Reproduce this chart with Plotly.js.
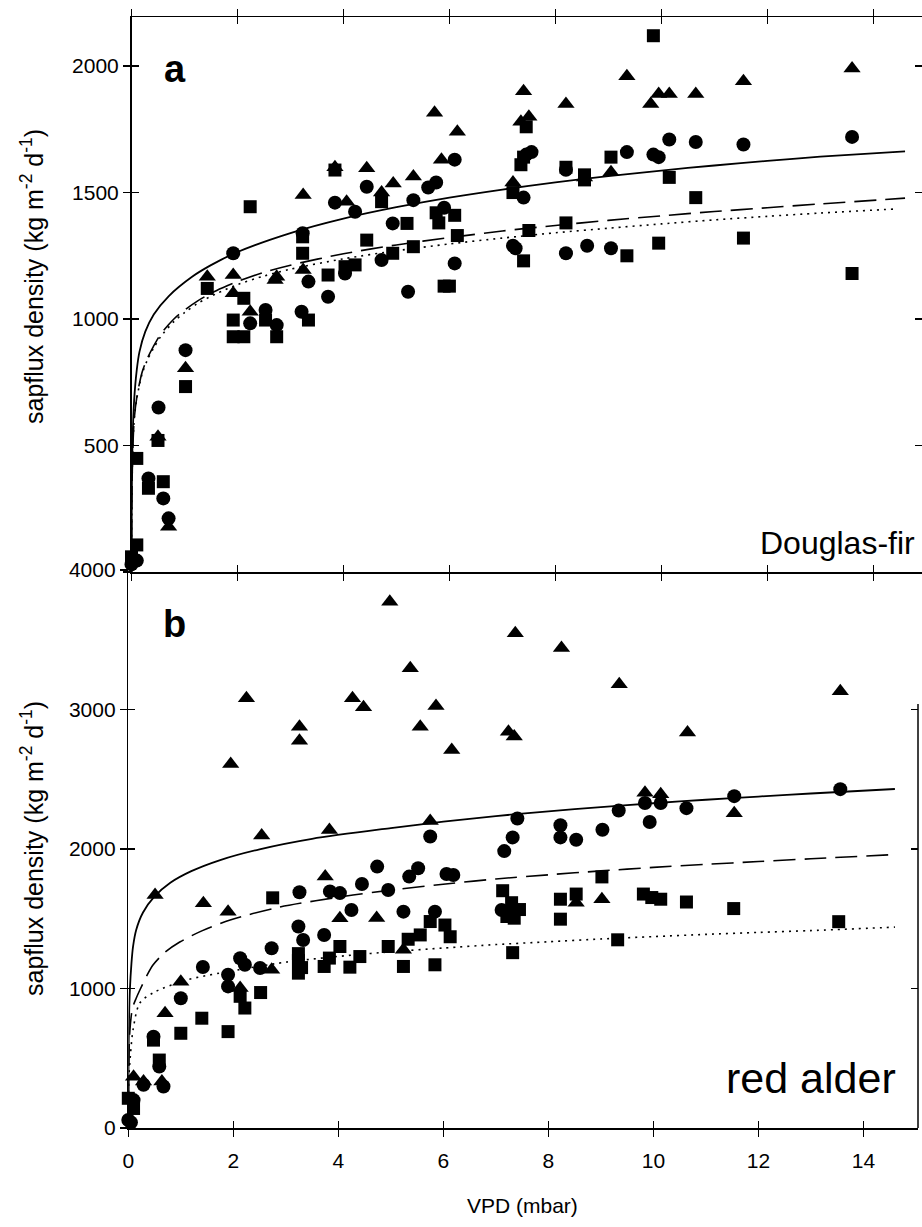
<!DOCTYPE html>
<html>
<head>
<meta charset="utf-8">
<script src="https://cdn.plot.ly/plotly-3.0.1.min.js"></script>
<style>html,body{margin:0;padding:0;background:#fff;}#chart{width:922px;height:1227px;}</style>
</head>
<body>
<div id="chart"></div>
<script>
// ---------- Panel a: Douglas-fir ----------
const aTriX = [0.5,0.7,1.02,1.43,1.92,1.92,2.24,2.71,2.74,3.24,3.24,3.84,4.06,4.44,4.72,4.94,5.32,5.72,5.85,6.15,7.2,7.35,7.4,7.5,8.2,8.55,9.05,9.35,9.8,9.95,10.15,10.65,11.55,13.6];
const aTriY = [535,179,805,1167,1102,1174,1029,1154,1167,1490,1194,1600,1464,1596,1500,1536,1563,1815,1630,1740,1540,1780,1900,1800,1850,1560,1580,1960,1850,1890,1890,1890,1940,1990];
const aCirX = [0.0,0.1,0.32,0.6,0.7,0.51,1.02,1.92,2.24,2.53,2.74,3.21,3.34,3.23,3.71,3.84,4.22,4.44,4.72,4.93,5.22,5.32,4.03,5.6,5.75,5.9,6.1,6.1,7.2,7.25,7.4,7.45,7.55,8.2,8.2,8.6,9.05,9.35,9.85,9.95,10.15,10.65,11.55,13.6];
const aCirY = [30,45,370,291,212,650,877,1260,983,1036,976,1029,1148,1339,1088,1460,1424,1523,1233,1378,1108,1470,1180,1520,1540,1440,1630,1220,1290,1280,1480,1650,1660,1260,1590,1290,1280,1660,1650,1640,1710,1700,1690,1720];
const aSqX = [0.0,0.1,0.1,0.32,0.6,0.5,1.02,1.43,1.92,1.92,2.12,2.12,2.24,2.53,2.74,3.23,3.23,3.34,3.71,3.84,4.03,4.22,4.44,4.72,4.93,5.2,5.32,5.75,5.8,5.9,6.0,6.1,6.15,7.2,7.35,7.4,7.45,7.5,7.4,8.2,8.2,8.55,8.55,9.05,9.35,9.85,9.95,10.15,10.65,11.55,13.6];
const aSqY = [60,107,449,331,357,520,733,1121,996,930,1082,930,1444,996,930,1325,1260,996,1174,1589,1207,1214,1312,1464,1260,1378,1286,1420,1380,1130,1130,1410,1330,1500,1610,1640,1760,1350,1230,1600,1380,1570,1550,1640,1250,2120,1300,1560,1480,1320,1180];
// fitted curves, values
const aFitX = [0,0.005,0.02,0.05,0.1,0.15,0.26,0.42,0.7,1.15,1.5,2,3,4,5,6,7,8,9,10,11,12,13,14.6];
const aSolidY = [0,300,520,680,800,870,950,1018,1090,1168,1213,1265,1340,1397,1442,1480,1512,1540,1565,1587,1607,1625,1642,1663];
const aDashX = [0,0.005,0.02,0.05,0.1,0.2,0.3,0.41,0.55,0.8,1.0,1.25,1.6,2,2.5,3,4,5,6,7,8,9,10,11,12,13,14.6];
const aDashY = [0,250,450,600,690,790,845,890,940,1000,1035,1072,1112,1148,1185,1213,1258,1293,1322,1348,1370,1390,1408,1425,1440,1455,1478];
const aDotX = [0,0.005,0.02,0.05,0.1,0.2,0.3,0.41,0.55,0.8,1.0,1.25,1.6,2,2.5,3,4,5,6,7,8,9,10,11,12,13,14.4];
const aDotY = [0,250,450,600,685,783,838,882,930,990,1025,1062,1100,1136,1170,1197,1238,1270,1297,1320,1341,1359,1376,1392,1406,1419,1435];

// ---------- Panel b: red alder ----------
const bTriX = [4.98,7.37,8.25,5.37,9.35,13.56,2.25,4.27,4.48,5.86,3.26,3.26,5.56,7.24,7.35,10.65,6.16,1.95,2.54,3.83,5.75,9.84,10.14,11.54,0.51,1.43,1.9,3.75,4.03,4.73,5.24,2.73,7.3,8.53,9.02,2.13,1.0,0.7,0.1,0.29,0.64];
const bTriY = [3773,3546,3440,3295,3181,3131,3080,3080,3016,3025,2877,2776,2877,2841,2806,2836,2710,2609,2097,2136,2201,2404,2392,2256,1670,1611,1551,1802,1503,1505,1277,1135,1580,1615,1640,1004,1049,823,368,333,333];
const bCirX = [13.56,11.54,9.84,10.14,9.93,10.63,9.34,9.03,8.23,8.23,8.53,7.41,7.32,7.16,5.75,4.74,5.52,5.35,6.06,6.19,4.45,4.95,3.26,3.84,4.03,7.11,4.25,5.24,5.84,3.24,3.33,3.73,2.73,2.13,2.22,2.51,1.42,1.9,1.9,1.0,0.48,0.59,0.29,0.67,0.1,0.0,0.05];
const bCirY = [2429,2379,2330,2330,2194,2293,2276,2138,2170,2083,2066,2219,2083,1985,2090,1874,1862,1802,1821,1814,1749,1706,1690,1696,1684,1563,1563,1551,1551,1444,1348,1384,1288,1217,1170,1147,1154,1099,1015,930,655,440,310,297,200,57,40];
const bSqX = [9.02,8.23,8.53,9.81,9.97,10.14,10.63,11.53,13.53,8.23,9.32,7.32,7.13,7.3,7.45,7.35,2.75,7.21,5.75,6.03,6.13,3.24,3.24,3.3,3.24,4.03,3.83,3.73,4.41,4.22,4.95,5.33,5.56,5.24,5.84,2.13,2.22,2.52,1.4,1.9,1.0,0.48,0.59,0.0,0.1];
const bSqY = [1800,1640,1677,1677,1652,1640,1620,1573,1479,1497,1349,1257,1701,1615,1566,1504,1650,1516,1480,1455,1371,1250,1200,1150,1110,1301,1218,1158,1229,1153,1301,1353,1384,1158,1170,944,860,971,787,691,679,630,487,213,140];
const bFitX = [0,0.005,0.015,0.03,0.06,0.09,0.15,0.28,0.5,0.8,1.2,1.75,2.5,3.5,5,6,7,8,9,10,11,12,13,14.6];
const bSolidY = [0,500,800,990,1180,1300,1420,1545,1660,1758,1841,1921,1998,2073,2150,2196,2236,2270,2300,2328,2353,2376,2398,2430];
const bDashX = [0,0.01,0.03,0.08,0.15,0.22,0.35,0.47,0.7,0.98,1.4,1.94,2.89,4.28,5,6.18,7,8,9,10,11,12,13,14.6];
const bDashY = [0,450,700,860,930,989,1090,1168,1260,1333,1413,1491,1584,1670,1705,1755,1785,1815,1843,1868,1890,1910,1930,1960];
const bDotX = [0,0.01,0.04,0.09,0.22,0.5,1.11,1.75,3.02,4.28,5,6,7,8,9,10,11,12,13,14.6];
const bDotY = [0,350,520,703,896,975,1061,1111,1190,1240,1263,1290,1315,1335,1355,1372,1388,1402,1415,1440];

const xTicks = [0,2,4,6,8,10,12,14];
const aYTicks = [0,500,1000,1500,2000];
const aYText = ['','500','1000','1500','2000'];
const bYTicks = [0,1000,2000,3000,4000];

const FONT = 'Arial, "Liberation Sans", Helvetica, sans-serif';
const BLACK = '#000';

function pts(x, y, sym, size, xa, ya) {
  return {type:'scatter', mode:'markers', x:x, y:y, xaxis:xa, yaxis:ya, cliponaxis:false,
    marker:{symbol:sym, size:size, color:BLACK, line:{width:0}}, showlegend:false, hoverinfo:'skip'};
}
function curve(x, y, dash, w, xa, ya) {
  return {type:'scatter', mode:'lines', x:x, y:y, xaxis:xa, yaxis:ya,
    line:{color:BLACK, width:w, dash:dash, shape:'spline', smoothing:0.8}, showlegend:false, hoverinfo:'skip'};
}
function dummy(xa, ya){ return {type:'scatter', mode:'markers', x:[null], y:[null], xaxis:xa, yaxis:ya, showlegend:false, hoverinfo:'skip'}; }

const traces = [
  curve(aFitX, aSolidY, 'solid', 1.8, 'x', 'y'),
  curve(aDashX, aDashY, '22px,9px', 1.6, 'x', 'y'),
  curve(aDotX, aDotY, '2px,5px', 1.6, 'x', 'y'),
  pts(aSqX, aSqY, 'square', 13, 'x', 'y'),
  pts(aCirX, aCirY, 'circle', 14, 'x', 'y'),
  pts(aTriX, aTriY, 'triangle-up', 15, 'x', 'y'),
  curve(bFitX, bSolidY, 'solid', 1.8, 'x2', 'y2'),
  curve(bDashX, bDashY, '22px,9px', 1.6, 'x2', 'y2'),
  curve(bDotX, bDotY, '2px,5px', 1.6, 'x2', 'y2'),
  pts(bSqX, bSqY, 'square', 13, 'x2', 'y2'),
  pts(bCirX, bCirY, 'circle', 14, 'x2', 'y2'),
  pts(bTriX, bTriY, 'triangle-up', 15, 'x2', 'y2'),
  dummy('x3','y'), dummy('x','y3'), dummy('x4','y2'), dummy('x5','y2'), dummy('x2','y4'), dummy('x2','y5')
];

const H = 1227, W = 922;
const aXdom = [131.5/W, 1];
const aYdom = [1-572/H, 1-17/H];
const bXdom = [128.3/W, 918/W];
const bYdom = [1-1128/H, 1-570/H];
const aXr = [0, 14.92];
const aYr = [0, 2194];
const bXr = [0, 15.04];
const bYr = [0, 4000];

const tickFont = {family:FONT, size:21, color:BLACK};
function axBase(extra){
  return Object.assign({showgrid:false, zeroline:false, linecolor:BLACK, linewidth:1.5, tickcolor:BLACK, tickwidth:1.3, ticklen:7, tickfont:tickFont, fixedrange:true}, extra);
}

const layout = {
  width: W, height: H,
  margin:{l:0, r:0, t:0, b:0},
  paper_bgcolor:'#fff', plot_bgcolor:'rgba(0,0,0,0)',
  font:{family:FONT, color:BLACK},
  showlegend:false,
  xaxis: axBase({domain:aXdom, range:aXr, anchor:'y', tickvals:xTicks, showticklabels:false, ticks:'outside', showline:true, mirror:'ticks'}),
  xaxis3: axBase({overlaying:'x', range:aXr, anchor:'y', tickvals:xTicks, showticklabels:false, ticks:'inside', showline:false, mirror:'ticks'}),
  yaxis: axBase({domain:aYdom, range:aYr, anchor:'x', tickvals:aYTicks, ticktext:aYText, ticks:'outside', showline:true, mirror:'ticks'}),
  yaxis3: axBase({overlaying:'y', range:aYr, anchor:'x', tickvals:aYTicks, showticklabels:false, ticks:'inside', showline:false, mirror:'ticks'}),
  xaxis2: axBase({domain:bXdom, range:bXr, anchor:'y2', tickvals:xTicks, showticklabels:false, ticks:'outside', showline:true}),
  xaxis4: axBase({overlaying:'x2', range:bXr, anchor:'y2', tickvals:xTicks, showticklabels:false, ticks:'inside', showline:false}),
  // tick labels of the VPD axis, set a little lower than the axis line
  xaxis5: axBase({overlaying:'x2', range:bXr, anchor:'free', position:1-1146/H, side:'bottom', tickvals:xTicks, ticks:'', showticklabels:true, showline:false}),
  yaxis2: axBase({domain:bYdom, range:bYr, anchor:'x2', tickvals:bYTicks, ticks:'outside', showline:true}),
  yaxis4: axBase({overlaying:'y2', range:bYr, anchor:'x2', tickvals:bYTicks, showticklabels:false, ticks:'inside', showline:false}),
  yaxis5: axBase({overlaying:'y2', range:bYr, anchor:'x2', side:'right', tickvals:[1000,2000,3000], showticklabels:false, ticks:'inside', showline:false}),
  shapes:[
    {type:'line', xref:'x2 domain', x0:1, x1:1, yref:'y2', y0:0, y1:3040, line:{color:BLACK, width:1.5}}
  ],
  annotations:[
    {text:'a', xref:'paper', yref:'paper', x:175/W, y:1-69/H, xanchor:'center', yanchor:'middle', showarrow:false, font:{family:FONT, size:38, color:BLACK, weight:'bold'}},
    {text:'b', xref:'paper', yref:'paper', x:174/W, y:1-624/H, xanchor:'center', yanchor:'middle', showarrow:false, font:{family:FONT, size:38, color:BLACK, weight:'bold'}},
    {text:'Douglas-fir', xref:'paper', yref:'paper', x:917/W, y:1-543/H, xanchor:'right', yanchor:'middle', showarrow:false, font:{family:FONT, size:32, color:BLACK}},
    {text:'red alder', xref:'paper', yref:'paper', x:898/W, y:1-1078/H, xanchor:'right', yanchor:'middle', showarrow:false, font:{family:FONT, size:43, color:BLACK}},
    {text:'sapflux density (kg m<sup>-2</sup> d<sup>-1</sup>)', xref:'paper', yref:'paper', x:32/W, y:1-277/H, xanchor:'center', yanchor:'middle', textangle:-90, showarrow:false, font:{family:FONT, size:25, color:BLACK}},
    {text:'sapflux density (kg m<sup>-2</sup> d<sup>-1</sup>)', xref:'paper', yref:'paper', x:32/W, y:1-849/H, xanchor:'center', yanchor:'middle', textangle:-90, showarrow:false, font:{family:FONT, size:25, color:BLACK}},
    {text:'VPD (mbar)', xref:'paper', yref:'paper', x:522/W, y:1-1205/H, xanchor:'center', yanchor:'middle', showarrow:false, font:{family:FONT, size:21, color:BLACK}}
  ]
};

Plotly.newPlot('chart', traces, layout, {staticPlot:true, displayModeBar:false});
</script>
</body>
</html>
